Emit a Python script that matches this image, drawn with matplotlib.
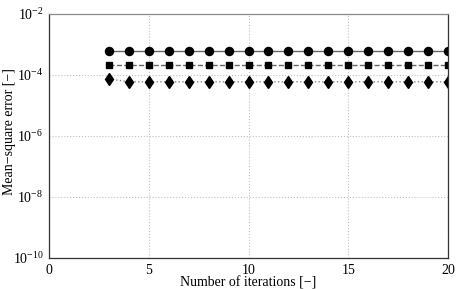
import matplotlib
matplotlib.use('Agg')
import matplotlib.pyplot as plt

iterations = list(range(3, 21))
mse_circle = [6.3e-4] * 18
mse_square = [2.1e-4] * 18
mse_diamond = [7.4e-5] + [6.0e-5] * 17

plt.rcParams['font.family'] = ['Liberation Serif', 'DejaVu Serif']
plt.rcParams['mathtext.fontset'] = 'stix'

fig = plt.figure(figsize=(4.57, 2.89), dpi=100)
ax = fig.add_axes([49 / 457, 1 - 258 / 289, 399 / 457, 244 / 289])

ax.semilogy(iterations, mse_circle, color='#666666', linestyle='-', linewidth=1.0,
            marker='o', markersize=5.8, markerfacecolor='black', markeredgecolor='black')
ax.semilogy(iterations, mse_square, color='#666666', linestyle='--', linewidth=1.0,
            marker='s', markersize=4.3, markerfacecolor='black', markeredgecolor='black')
ax.semilogy(iterations, mse_diamond, color='#888888', linestyle=':', linewidth=1.0,
            marker='d', markersize=6.5, markerfacecolor='black', markeredgecolor='black')

ax.set_xlim(0, 20)
ax.set_ylim(1e-10, 1e-2)
ax.set_xticks([0, 5, 10, 15, 20])
ax.set_yticks([1e-10, 1e-8, 1e-6, 1e-4, 1e-2])
ax.minorticks_off()
ax.tick_params(length=0, labelsize=10, pad=4)
ax.grid(True, linestyle=':', color='#c0c0c0', linewidth=0.8)
for s in ax.spines.values():
    s.set_color('#333333')
    s.set_linewidth(0.9)
ax.spines['top'].set_color('#888888')

ax.set_xlabel('Number of iterations [\u2212]', fontsize=10, labelpad=0)
ax.set_ylabel('Mean\u2212square error [\u2212]', fontsize=10)
ax.yaxis.set_label_coords(-0.082, 0.52)

fig.savefig('out.png', dpi=100)
